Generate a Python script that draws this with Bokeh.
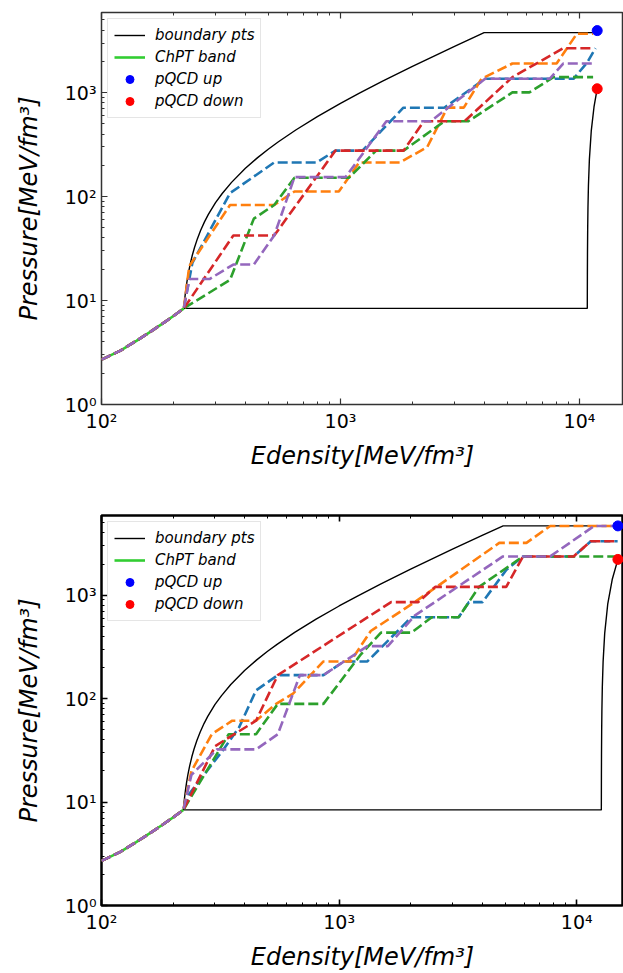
from bokeh.plotting import figure
from bokeh.layouts import column
from bokeh.models import LogAxis, FixedTicker, Legend, LegendItem, Range1d, CustomJSTickFormatter
from bokeh.embed import file_html
from bokeh.resources import INLINE

# ---------------- data ----------------
x_tick_values = [100, 1000, 10000]
x_tick_labels = ["10²", "10³", "10⁴"]
y_tick_values = [1, 10, 100, 1000]
y_tick_labels = ["10⁰", "10¹", "10²", "10³"]

series_names = ["blue", "orange", "green", "red", "purple"]
series_colors = ["#1f77b4", "#ff7f0e", "#2ca02c", "#d62728", "#9467bd"]

# ChPT band (shared low-density part)
chpt_e = [100, 120, 140, 160, 180, 200, 221]
chpt_p = [2.7, 3.3, 4.1, 5.0, 6.0, 7.1, 8.4]

# ---- top panel ----
top_upper_e = [221, 222, 224, 226, 228, 231, 235, 240, 245, 252, 260, 270, 280, 300, 320, 350, 400,
               450, 500, 550, 650, 800, 1000, 1200, 1500, 2000, 2500, 3000, 3990, 11860]
top_upper_p = [8.4, 9.4, 11.4, 13.4, 15.4, 18.4, 22.4, 27.4, 32.4, 39.4, 47.4, 57.4, 67.4, 87.4, 107, 137, 187,
               237, 287, 337, 437, 587, 787, 987, 1287, 1787, 2287, 2787, 3780, 3780]
top_lower_e = [221, 10780, 10790, 10800, 10820, 10850, 10900, 11000, 11200, 11500, 11860]
top_lower_p = [8.4, 8.4, 18, 28, 48, 78, 128, 228, 428, 728, 1090]

top_blue_e = [240, 345, 528, 795, 953, 1236, 1833, 2718, 4030, 9440, 10770, 11670]
top_blue_p = [23, 108, 213, 213, 277, 277, 716, 716, 1358, 1358, 1950, 2673]
top_orange_e = [233, 345, 528, 642, 984, 1197, 1774, 2307, 2800, 3280, 3890, 5240, 8020, 9750, 11400]
top_orange_p = [21.4, 83, 83, 112, 112, 213, 213, 300, 718, 718, 1358, 1905, 1905, 3690, 3690]
top_green_e = [345, 434, 528, 642, 1086, 1409, 1837, 2718, 3420, 5240, 6170, 7780, 11400]
top_green_p = [15.8, 61.4, 83, 152, 152, 277, 277, 530, 530, 1005, 1005, 1409, 1409]
top_red_e = [356, 528, 953, 1837, 2233, 3303, 5240, 8550, 11400]
top_red_p = [42.2, 42.2, 277, 277, 530, 530, 1409, 2673, 2673]
top_purple_e = [233, 283, 356, 434, 528, 642, 1050, 1556, 2383, 4030, 7500, 8550, 11400]
top_purple_p = [16.1, 16.1, 22.2, 22.2, 42.2, 154, 154, 530, 530, 1358, 1358, 1905, 1905]

top_pqcd_up_e = [11860]
top_pqcd_up_p = [3950]
top_pqcd_down_e = [11860]
top_pqcd_down_p = [1090]

# ---- bottom panel ----
bot_upper_e = [221, 222, 224, 226, 228, 231, 235, 240, 245, 252, 260, 270, 280, 300, 320, 350, 400,
               450, 500, 550, 650, 800, 1000, 1200, 1500, 2000, 2500, 3000, 4000, 4900, 14900]
bot_upper_p = [8.4, 9.4, 11.4, 13.4, 15.4, 18.4, 22.4, 27.4, 32.4, 39.4, 47.4, 57.4, 67.4, 87.4, 107, 137, 187,
               237, 287, 337, 437, 587, 787, 987, 1287, 1787, 2287, 2787, 3787, 4680, 4680]
bot_lower_e = [221, 12690, 12700, 12710, 12730, 12760, 12810, 12910, 13110, 13500, 14100, 14900]
bot_lower_p = [8.4, 8.4, 18, 28, 48, 78, 128, 228, 428, 818, 1418, 2220]

bot_blue_e = [232, 322, 379, 447, 552, 859, 1047, 1315, 2014, 3185, 3515, 4010, 5050, 5940, 9700, 11460, 14860]
bot_blue_p = [11.7, 31, 52.6, 120, 169, 169, 229, 229, 612, 612, 857, 857, 1755, 2372, 2372, 3327, 3327]
bot_orange_e = [239, 291, 355, 447, 543, 640, 859, 1117, 1359, 2080, 4720, 6140, 7730, 14860]
bot_orange_p = [19.9, 45.3, 61.2, 61.2, 89, 112, 229, 229, 451, 857, 3205, 3205, 4670, 4670]
bot_green_e = [343, 447, 552, 859, 1233, 1500, 2014, 2455, 3185, 3880, 5940, 14860]
bot_green_p = [45.3, 45.3, 89, 89, 267, 435, 435, 612, 612, 1205, 2372, 2372]
bot_red_e = [301, 447, 552, 1655, 2153, 2536, 5050, 5940, 9700, 11460, 14860]
bot_red_p = [34.8, 61.2, 169, 857, 857, 1205, 1205, 2372, 2372, 3327, 3327]
bot_purple_e = [239, 306, 447, 552, 684, 859, 1315, 1603, 2080, 4890, 7730, 11830, 14860]
bot_purple_p = [18.3, 32.3, 32.3, 45.3, 169, 169, 322, 322, 635, 2372, 2372, 4670, 4670]

bot_pqcd_up_e = [14900]
bot_pqcd_up_p = [4680]
bot_pqcd_down_e = [14900]
bot_pqcd_down_p = [2220]

x_label = "Edensity[MeV/fm³]"
y_label = "Pressure[MeV/fm³]"
legend_labels = ["boundary pts", "ChPT band", "pQCD up", "pQCD down"]

# ---------------- drawing ----------------
FONT = "DejaVu Sans"


def minor_list(lo_exp, hi_exp):
    out = []
    for k in range(lo_exp, hi_exp + 1):
        for m in range(2, 10):
            out.append(m * 10 ** k)
    return out


def make_panel(upper, lower, series, up, down, height, b_top, b_bottom, b_left,
               x_end, spine_color, spine_width, tick_w):
    p = figure(width=623, height=height, x_axis_type="log", y_axis_type="log",
               x_range=Range1d(100, x_end), y_range=Range1d(1, 5900),
               output_backend="svg", toolbar_location=None,
               min_border_left=b_left, min_border_right=0,
               min_border_top=b_top, min_border_bottom=b_bottom)
    p.xgrid.visible = False
    p.ygrid.visible = False
    p.outline_line_color = spine_color
    p.outline_line_width = spine_width
    p.background_fill_color = "white"

    xt = FixedTicker(ticks=x_tick_values, minor_ticks=minor_list(2, 4))
    yt = FixedTicker(ticks=y_tick_values, minor_ticks=minor_list(0, 3))

    def style(ax, ticker, labels, show):
        ax.ticker = ticker
        ax.axis_line_color = None
        ax.major_tick_in = 6
        ax.major_tick_out = 0
        ax.minor_tick_in = 3
        ax.minor_tick_out = 0
        ax.major_tick_line_color = spine_color
        ax.minor_tick_line_color = spine_color
        ax.major_tick_line_width = tick_w
        ax.minor_tick_line_width = 1
        if show:
            ax.major_label_overrides = dict(zip(ticker.ticks, labels))
            ax.major_label_text_font = FONT
            ax.major_label_text_font_size = "19px"
            ax.major_label_text_color = "black"
            ax.major_label_standoff = 5
        else:
            ax.formatter = CustomJSTickFormatter(code="return ''")
            ax.major_label_text_font_size = "2px"
            ax.major_label_standoff = 0

    style(p.xaxis[0], xt, x_tick_labels, True)
    style(p.yaxis[0], yt, y_tick_labels, True)
    p.xaxis[0].axis_label = x_label
    p.yaxis[0].axis_label = y_label
    for ax in (p.xaxis[0], p.yaxis[0]):
        ax.axis_label_text_font = FONT
        ax.axis_label_text_font_style = "italic"
        ax.axis_label_text_font_size = "24px"
        ax.axis_label_text_color = "black"
    p.xaxis[0].axis_label_standoff = 7
    p.yaxis[0].axis_label_standoff = 19

    top_ax = LogAxis()
    style(top_ax, xt, None, False)
    p.add_layout(top_ax, "above")

    r_b = p.line(upper[0], upper[1], color="black", line_width=1.4)
    p.line(lower[0], lower[1], color="black", line_width=1.4)
    r_c = p.line(chpt_e, chpt_p, color="limegreen", line_width=2.6)
    for col, (se, sp) in zip(series_colors, series):
        p.line(chpt_e + se, chpt_p + sp, color=col, line_width=2.6, line_dash="10 4")
    r_u = p.scatter(up[0], up[1], color="blue", size=10)
    r_d = p.scatter(down[0], down[1], color="red", size=10)

    legend = Legend(items=[LegendItem(label=legend_labels[0], renderers=[r_b]),
                           LegendItem(label=legend_labels[1], renderers=[r_c]),
                           LegendItem(label=legend_labels[2], renderers=[r_u]),
                           LegendItem(label=legend_labels[3], renderers=[r_d])],
                    location="top_left")
    legend.label_text_font = FONT
    legend.label_text_font_style = "italic"
    legend.label_text_font_size = "15px"
    legend.label_text_color = "black"
    legend.glyph_width = 31
    legend.glyph_height = 20
    legend.label_height = 20
    legend.spacing = 2
    legend.padding = 6
    legend.margin = 6
    legend.label_standoff = 10
    legend.border_line_color = "#cccccc"
    legend.border_line_width = 1
    legend.background_fill_alpha = 0.8
    p.add_layout(legend)
    return p


top_series = [(top_blue_e, top_blue_p), (top_orange_e, top_orange_p), (top_green_e, top_green_p),
              (top_red_e, top_red_p), (top_purple_e, top_purple_p)]
bot_series = [(bot_blue_e, bot_blue_p), (bot_orange_e, bot_orange_p), (bot_green_e, bot_green_p),
              (bot_red_e, bot_red_p), (bot_purple_e, bot_purple_p)]

p1 = make_panel((top_upper_e, top_upper_p), (top_lower_e, top_lower_p), top_series,
                (top_pqcd_up_e, top_pqcd_up_p), (top_pqcd_down_e, top_pqcd_down_p),
                487, 12, 83, 101, 15280, "#333333", 1.5, 1.2)
p2 = make_panel((bot_upper_e, bot_upper_p), (bot_lower_e, bot_lower_p), bot_series,
                (bot_pqcd_up_e, bot_pqcd_up_p), (bot_pqcd_down_e, bot_pqcd_down_p),
                486, 28, 66, 98, 15730, "black", 2.5, 1.6)

layout = column(p1, p2, spacing=0)
open("out.html", "w").write(file_html(layout, INLINE))
